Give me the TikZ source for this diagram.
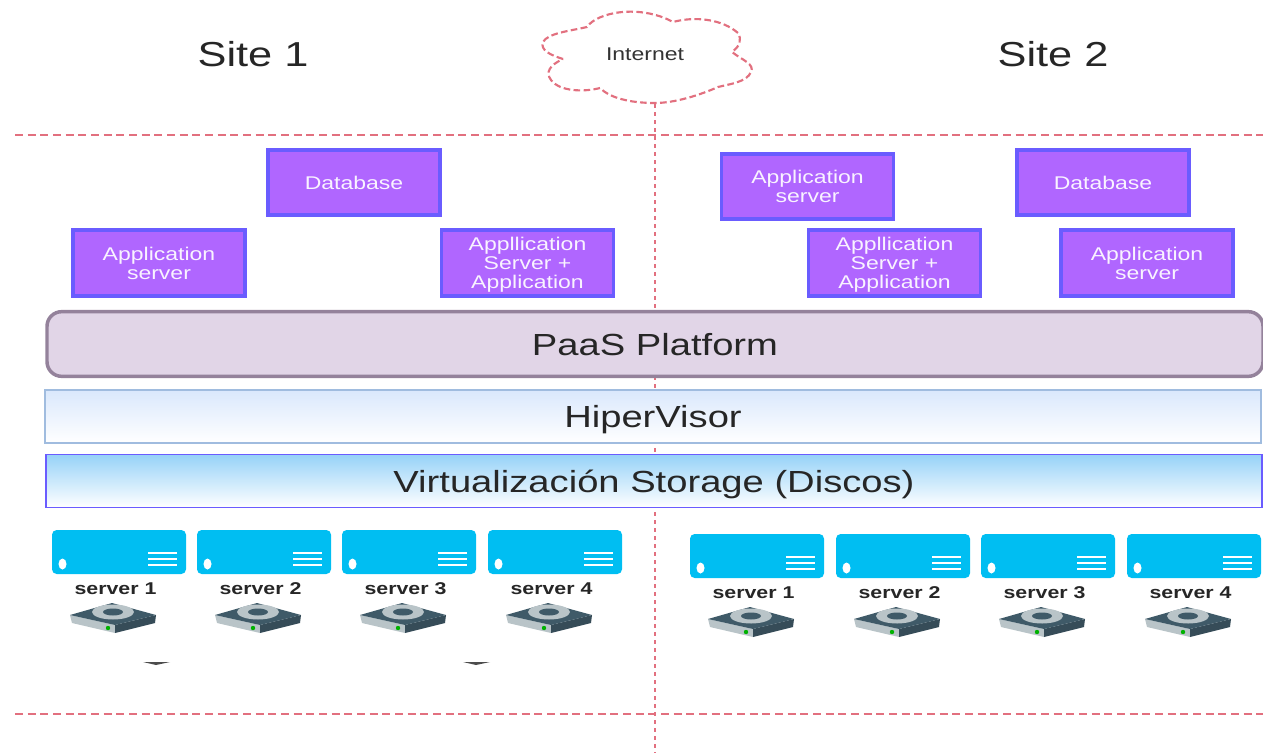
\documentclass[tikz,border=0pt]{standalone}
\usepackage{fontspec}
\setmainfont[FakeStretch=1.25]{Liberation Sans}
\usetikzlibrary{positioning}
\definecolor{siteRed}{HTML}{E2707F}
\definecolor{appFill}{HTML}{B066FF}
\definecolor{appLine}{HTML}{6A5CFF}
\definecolor{srvBlue}{HTML}{00BEF2}
\definecolor{diskDark}{HTML}{3F5A68}
\definecolor{diskGrey}{HTML}{B9C4C8}
\newcommand{\serverunit}[4]{
	\begin{scope}[shift={(#2,#3)}]
		\node (#1) [srvbox] at (67,22) {};
		\node (#1l) [srvlabel, below=4.5pt of #1, xshift=-2.6pt] {server #4};
		\fill[white] (10.5,34) ellipse (4 and 5.5);
		\foreach \yy in {23,29,35}
			\draw[white, line width=2pt] (96,\yy) -- (125,\yy);
		% disk below the label
		\fill[diskGrey] (18,85) -- (63,95) -- (63,103) -- (20,93) -- cycle;
		\fill[diskDark!85!black] (63,95) -- (104,85) -- (103,93) -- (63,103) -- cycle;
		\fill[diskDark] (18,85) -- (60,73) -- (104,85) -- (63,95) -- cycle;
		\fill[diskGrey] (61,82) ellipse (21 and 7.5);
		\fill[diskDark] (61,82) ellipse (10 and 3.5);
		\fill[green!70!black] (56,98) circle (2.2);
	\end{scope}
}
\begin{document}
\begin{tikzpicture}[x=0.75pt,y=-0.75pt,
		siteline/.style={siteRed, line width=1.5pt, dash pattern=on 6pt off 3.5pt},
		appbox/.style={draw=appLine, fill=appFill, line width=2.8pt, text=white!92!appFill, align=center, minimum width=129pt, minimum height=49pt, inner sep=0pt, text depth=0pt, font=\fontsize{13.8}{14.2}\selectfont},
		layerbox/.style={minimum width=912pt, inner sep=0pt, text depth=0pt, text=black!85, font=\fontsize{22.9}{24}\selectfont},
		srvbox/.style={fill=srvBlue, rounded corners=3.5pt, minimum width=100.5pt, minimum height=33pt, inner sep=0pt},
		srvlabel/.style={font=\fontsize{12.8}{13}\selectfont\bfseries, inner sep=1.5pt, text=black!85},
		sitetitle/.style={font=\fontsize{26}{27}\selectfont, text=black!85}]
	\useasboundingbox (0,0) rectangle (1263,753);

	\node (site1) [sitetitle] at (253,54) {Site 1};
	\node (site2) [sitetitle] at (1053,54) {Site 2};

	\coordinate (cloudb) at (655,104);
	\coordinate (lineb) at (655,753);
	\coordinate (topl) at (15,135);
	\coordinate (topr) at (1263,135);
	\coordinate (botl) at (15,714);
	\coordinate (botr) at (1263,714);
	\draw[siteline] (topl) -- (topr);
	\draw[siteline] (botl) -- (botr);
	\draw[siteRed, line width=1.8pt, dash pattern=on 3pt off 3pt] (cloudb) -- (lineb);

	\draw[siteRed, line width=1.6pt, dash pattern=on 5pt off 2.5pt, fill=white] (563,59)
		.. controls (550,55) and (540,50) .. (543,42)
		.. controls (548,33) and (570,31) .. (587,27)
		.. controls (597,12) and (640,4) .. (673,22)
		.. controls (695,16) and (722,19) .. (738,33)
		.. controls (742,40) and (740,46) .. (732,52)
		.. controls (742,60) and (755,64) .. (751,72)
		.. controls (747,82) and (730,84) .. (718,87)
		.. controls (700,95) and (675,103) .. (655,103)
		.. controls (630,103) and (610,98) .. (600,88)
		.. controls (585,92) and (560,92) .. (551,80)
		.. controls (545,72) and (550,65) .. (563,59) -- cycle;
	\node (inet) [text=black!80, font=\fontsize{13.8}{14}\selectfont] at (645,54) {Internet};

	\node (db1) [appbox] at (354,182.5) {Database};
	\node (as1) [appbox] at (159,263) {Application\\server};
	\node (asa1) [appbox] at (527.5,263) {Appllication\\Server +\\Application};
	\node (as2) [appbox] at (807.5,186.5) {Application\\server};
	\node (db2) [appbox] at (1103,182.5) {Database};
	\node (asa2) [appbox] at (894.5,263) {Appllication\\Server +\\Application};
	\node (as3) [appbox] at (1147,263) {Application\\server};

	\node (paas) [layerbox, line width=2.6pt, fill={rgb,255:red,225;green,213;blue,231}, draw={rgb,255:red,148;green,130;blue,155}, rounded corners=11pt, minimum height=48.5pt] at (655,344) {PaaS Platform};
	\node (hyper) [layerbox, draw={rgb,255:red,160;green,188;blue,223}, line width=1.2pt, top color={rgb,255:red,218;green,232;blue,252}, bottom color=white, minimum height=39.5pt] at (653,416.5) {HiperVisor};
	\node (virt) [layerbox, draw=appLine, line width=1.2pt, top color={rgb,255:red,150;green,210;blue,248}, bottom color=white, minimum height=40pt] at (654,481) {Virtualización Storage (Discos)};

	\serverunit{a1}{52}{530}{1}
	\serverunit{a2}{197}{530}{2}
	\serverunit{a3}{342}{530}{3}
	\serverunit{a4}{488}{530}{4}
	\serverunit{b1}{690}{534}{1}
	\serverunit{b2}{836}{534}{2}
	\serverunit{b3}{981}{534}{3}
	\serverunit{b4}{1127}{534}{4}

	% specks under the disks
	\fill[black!70] (143,662) -- (170,662) -- (156,665) -- cycle;
	\fill[black!70] (463,662) -- (490,662) -- (476,665) -- cycle;
\end{tikzpicture}
\end{document}
